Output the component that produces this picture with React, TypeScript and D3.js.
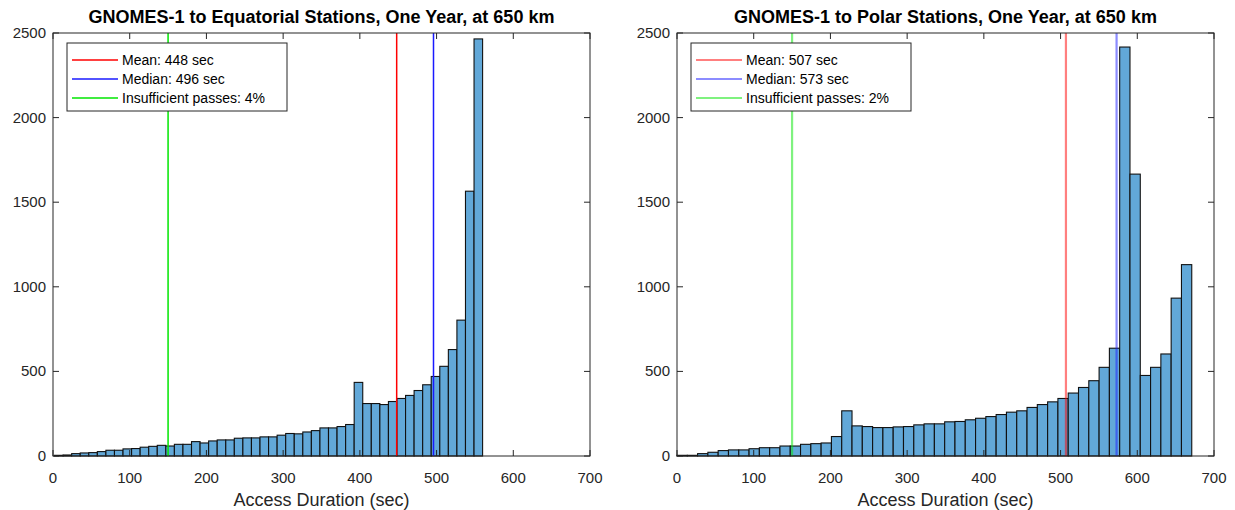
import React from 'react'
import * as d3 from 'd3'

// histogram counts (50 bins each)
const equatorialCounts = [
  4, 6, 14, 18, 20, 26, 34, 34, 42, 44,
  52, 57, 63, 59, 69, 69, 85, 77, 89, 95,
  95, 105, 107, 107, 113, 113, 123, 133, 131, 142,
  150, 166, 166, 174, 186, 435, 310, 310, 304, 322,
  340, 358, 387, 421, 470, 530, 629, 803, 1565, 2465,
]
const polarCounts = [
  4, 4, 14, 22, 32, 36, 36, 43, 49, 49,
  59, 59, 69, 73, 77, 115, 267, 178, 174, 168,
  168, 172, 174, 184, 190, 190, 202, 204, 214, 223,
  233, 245, 259, 267, 287, 304, 320, 340, 372, 405,
  445, 524, 637, 2417, 1666, 476, 524, 603, 933, 1131,
]

// bin layout (seconds)
const equatorialBinStart = 2
const equatorialBinWidth = 11.16
const polarBinStart = 0
const polarBinWidth = 13.42

// reference lines (seconds): mean, median, insufficient-pass cutoff
const equatorialStats = [448, 496, 150]
const polarStats = [507, 573, 150]
const equatorialPct = 4
const polarPct = 2

const xTicks = [0, 100, 200, 300, 400, 500, 600, 700]
const yTicks = [0, 500, 1000, 1500, 2000, 2500]

const W = 1235
const H = 510
const TOP = 33
const BOTTOM = 456
const PLOT_W = 537
const FONT = '"Liberation Sans", Arial, Helvetica, sans-serif'
const AXIS = '#262626'

interface HistProps {
  left: number
  title: string
  counts: number[]
  binStart: number
  binWidth: number
  stats: number[]
  pct: number
  faded?: boolean
}

const Histogram: React.FC<HistProps> = ({ left, title, counts, binStart, binWidth, stats, pct, faded }) => {
  const x = d3.scaleLinear().domain([0, 700]).range([left, left + PLOT_W])
  const y = d3.scaleLinear().domain([0, 2500]).range([BOTTOM, TOP])
  const right = left + PLOT_W
  const tick = 6

  const lineColors = ['#ff0000', '#1a1aff', '#00e600']
  const lineOpacity = faded ? 0.5 : 1
  const lineWidth = faded ? 2.2 : 1.5
  const labels = [
    `Mean: ${stats[0]} sec`,
    `Median: ${stats[1]} sec`,
    `Insufficient passes: ${pct}%`,
  ]

  const lx = left + 14
  const ly = 43

  return (
    <g>
      <text
        x={(left + right) / 2}
        y={23}
        textAnchor="middle"
        fontFamily={FONT}
        fontWeight="bold"
        fontSize={18}
        fill="#000"
      >
        {title}
      </text>

      {counts.map((c, i) => {
        const x0 = binStart + i * binWidth
        return (
          <rect
            key={i}
            x={x(x0)}
            y={y(c)}
            width={x(x0 + binWidth) - x(x0)}
            height={y(0) - y(c)}
            fill="#62a8d8"
            stroke="#111"
            strokeWidth={1.1}
          />
        )
      })}

      {stats.map((s, i) => (
        <line
          key={i}
          x1={x(s)}
          x2={x(s)}
          y1={y(0)}
          y2={y(2500)}
          stroke={lineColors[i]}
          strokeOpacity={lineOpacity}
          strokeWidth={lineWidth}
        />
      ))}

      {/* axes box with inward ticks on all sides */}
      <rect x={left} y={TOP} width={PLOT_W} height={BOTTOM - TOP} fill="none" stroke={AXIS} strokeWidth={1} />
      {xTicks.map(t => (
        <g key={t}>
          <line x1={x(t)} x2={x(t)} y1={BOTTOM} y2={BOTTOM - tick} stroke={AXIS} />
          <line x1={x(t)} x2={x(t)} y1={TOP} y2={TOP + tick} stroke={AXIS} />
          <text x={x(t)} y={BOTTOM + 27} textAnchor="middle" fontFamily={FONT} fontSize={15} fill={AXIS}>
            {t}
          </text>
        </g>
      ))}
      {yTicks.map(t => (
        <g key={t}>
          <line x1={left} x2={left + tick} y1={y(t)} y2={y(t)} stroke={AXIS} />
          <line x1={right} x2={right - tick} y1={y(t)} y2={y(t)} stroke={AXIS} />
          <text x={left - 7} y={y(t) + 5} textAnchor="end" fontFamily={FONT} fontSize={15} fill={AXIS}>
            {t}
          </text>
        </g>
      ))}
      <text
        x={(left + right) / 2}
        y={506}
        textAnchor="middle"
        fontFamily={FONT}
        fontSize={18}
        fill={AXIS}
      >
        Access Duration (sec)
      </text>

      {/* legend */}
      <rect x={lx} y={ly} width={220} height={68} fill="#fff" stroke={AXIS} strokeWidth={1} />
      {labels.map((lab, i) => (
        <g key={lab}>
          <line
            x1={lx + 5}
            x2={lx + 51}
            y1={ly + 17 + i * 19}
            y2={ly + 17 + i * 19}
            stroke={lineColors[i]}
            strokeOpacity={lineOpacity}
            strokeWidth={lineWidth}
          />
          <text x={lx + 55} y={ly + 22 + i * 19} fontFamily={FONT} fontSize={14} fill="#000">
            {lab}
          </text>
        </g>
      ))}
    </g>
  )
}

export default function App() {
  return (
    <svg
      width={W}
      height={H}
      style={{ position: 'absolute', left: 0, top: 0, background: '#fff' }}
    >
      <Histogram
        left={53}
        title="GNOMES-1 to Equatorial Stations, One Year, at 650 km"
        counts={equatorialCounts}
        binStart={equatorialBinStart}
        binWidth={equatorialBinWidth}
        stats={equatorialStats}
        pct={equatorialPct}
      />
      <Histogram
        left={677}
        title="GNOMES-1 to Polar Stations, One Year, at 650 km"
        counts={polarCounts}
        binStart={polarBinStart}
        binWidth={polarBinWidth}
        stats={polarStats}
        pct={polarPct}
        faded
      />
    </svg>
  )
}
